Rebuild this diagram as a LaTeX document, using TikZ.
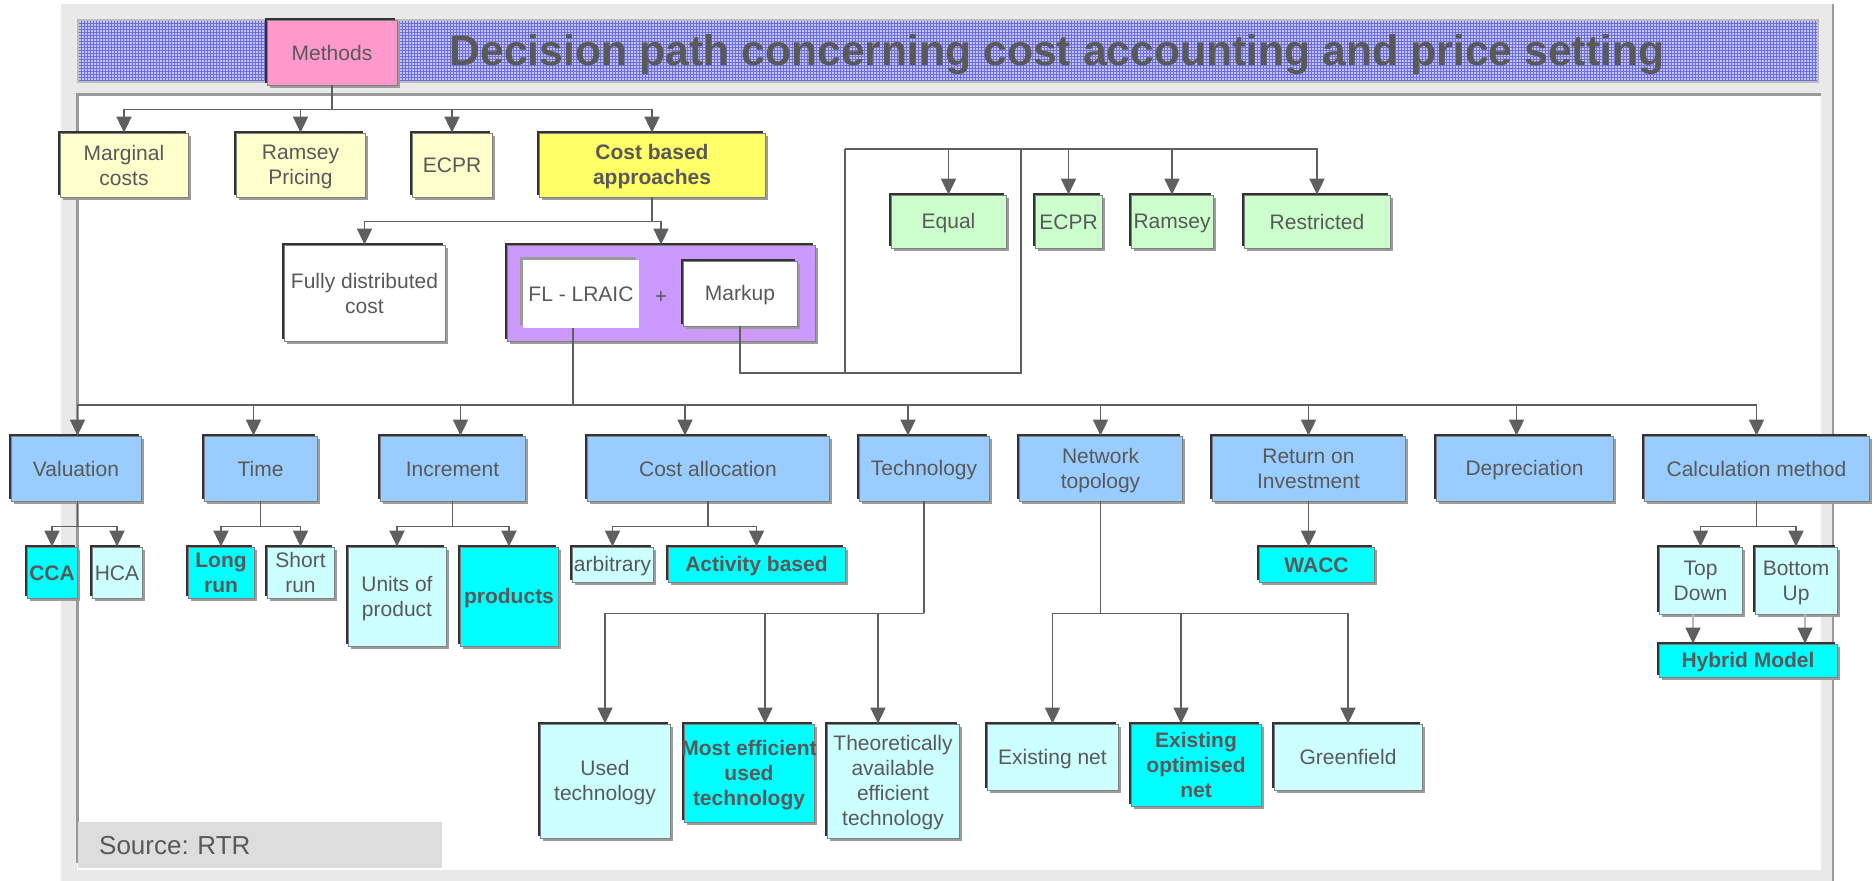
\documentclass[tikz,border=0pt]{standalone}
\usepackage{fontspec}
\setmainfont{Liberation Sans}
\usetikzlibrary{arrows.meta,shadows,patterns,calc}

\definecolor{txt}{HTML}{595959}
\definecolor{framegray}{HTML}{E9E9E9}
\definecolor{edgegray}{HTML}{9A9A9A}
\definecolor{panelborder}{HTML}{999999}
\definecolor{bannerbg}{HTML}{C2C2F0}
\definecolor{bannerline}{HTML}{6E6ED8}
\definecolor{bannerborder}{HTML}{BDBDBD}
\definecolor{srcgray}{HTML}{DDDDDD}
\definecolor{darkedge}{HTML}{333333}
\definecolor{shadowgray}{HTML}{9C9C9C}
\definecolor{boxline}{HTML}{808080}
\definecolor{linec}{HTML}{5F5F5F}
\definecolor{lightline}{HTML}{B8B8B8}
\definecolor{pinkf}{HTML}{FF99CC}
\definecolor{yelL}{HTML}{FFFFCC}
\definecolor{yel}{HTML}{FFFF66}
\definecolor{pur}{HTML}{CC99FF}
\definecolor{grn}{HTML}{CCFFCC}
\definecolor{blu}{HTML}{99CCFF}
\definecolor{cyn}{HTML}{00FFFF}
\definecolor{cynL}{HTML}{CCFFFF}

\frenchspacing
\newcommand{\bfnt}{\fontsize{21}{25}\selectfont}
% strut that centres capitals in a box
\newcommand{\capstrut}{\rule[-4pt]{0pt}{23pt}}
% box placed by its left, top, right and bottom edges
\newcommand{\boxnode}[7][]{%
  \node[bxbase,#1,minimum width={(#4-#2)*1pt},minimum height={(#5-#3)*1pt}]
    (#6) at ({(#2+#4)/2},{(#3+#5)/2}) {\capstrut#7\capstrut};}

\begin{document}
\begin{tikzpicture}[x=1pt,y=-1pt,
  bxbase/.style={align=center,inner sep=1pt,text=txt,font=\bfnt},
  bx/.style={draw=boxline,line width=0.75pt,
    general shadow={shadow xshift=3pt,shadow yshift=-3pt,fill=shadowgray},
    general shadow={shadow xshift=-2.5pt,shadow yshift=2.5pt,fill=darkedge}},
  bold/.style={font=\bfnt\bfseries},
  conn/.style={draw=linec,line width=1.7pt},
  arr/.style={conn,-{Triangle[length=16pt,width=15pt,color=linec]}},
  arrl/.style={draw=lightline,line width=1.5pt,-{Triangle[length=16pt,width=15pt,color=linec]}},
]
\useasboundingbox (0,0) rectangle (1875,881);

% frame, title banner and white panel
\fill[framegray] (61,4) rectangle (1833,881);
\draw[edgegray,line width=2pt] (1833,4) -- (1833,881);
\fill[bannerbg] (78,20) rectangle (1818,82);
\fill[pattern=grid,pattern color=bannerline] (78,20) rectangle (1818,82);
\draw[bannerborder,line width=2.5pt] (78,20) rectangle (1818,82);
\fill[white] (77,94) rectangle (1821,870);
\draw[panelborder,line width=3pt] (77,863) -- (77,94) -- (1821,94);

\node[anchor=base west,text=txt,font=\fontsize{42.7}{48}\selectfont\bfseries]
  (title) at (446,65) {Decision path concerning cost accounting and price setting};

% methods
\boxnode[bx,fill=pinkf]{267}{20}{397}{85}{methods}{Methods}
\boxnode[bx,fill=yelL]{60}{133}{188}{197}{mc}{Marginal\\costs}
\boxnode[bx,fill=yelL]{236}{133}{365}{197}{rp}{Ramsey\\Pricing}
\boxnode[bx,fill=yelL]{412}{133}{492}{197}{ecpr}{ECPR}
\boxnode[bx,fill=yel,bold]{539}{133}{765}{197}{cba}{Cost based\\approaches}

% cost based approaches
\boxnode[bx,fill=white]{284}{245}{445}{341}{fdc}{Fully distributed\\cost}
\boxnode[bx,fill=pur]{507}{245}{815}{341}{lraicbox}{}
\boxnode[fill=white,general shadow={shadow xshift=-3pt,shadow yshift=3pt,fill=edgegray}]{523}{260}{639}{328}{fl}{FL - LRAIC}
\node[text=txt,font=\bfnt] (plus) at (661,297) {+};
\boxnode[bx,fill=white]{683}{261}{797}{326}{markup}{Markup}

% markup variants
\boxnode[bx,fill=grn]{891}{195}{1006}{248}{eq}{Equal}
\boxnode[bx,fill=grn]{1035}{195}{1102}{248}{ecprB}{ECPR}
\boxnode[bx,fill=grn]{1131}{195}{1213}{248}{ram}{Ramsey}
\boxnode[bx,fill=grn]{1244}{195}{1390}{248}{res}{Restricted}

% decision dimensions
\boxnode[bx,fill=blu]{11}{436}{141}{501}{val}{Valuation}
\boxnode[bx,fill=blu]{204}{436}{317}{501}{time}{Time}
\boxnode[bx,fill=blu]{380}{436}{525}{501}{inc}{Increment}
\boxnode[bx,fill=blu]{587}{436}{829}{501}{alloc}{Cost allocation}
\boxnode[bx,fill=blu]{859}{436}{989}{501}{tech}{Technology}
\boxnode[bx,fill=blu]{1019}{436}{1182}{501}{net}{Network\\topology}
\boxnode[bx,fill=blu]{1212}{436}{1405}{501}{roi}{Return on\\Investment}
\boxnode[bx,fill=blu]{1436}{436}{1613}{501}{dep}{Depreciation}
\boxnode[bx,fill=blu]{1644}{436}{1869}{501}{calc}{Calculation method}

% options
\boxnode[bx,fill=cyn,bold]{27}{547}{77}{598}{cca}{CCA}
\boxnode[bx,fill=cynL]{92}{547}{142}{598}{hca}{HCA}
\boxnode[bx,fill=cyn,bold]{188}{547}{254}{598}{lr}{Long\\run}
\boxnode[bx,fill=cynL]{267}{547}{334}{598}{sr}{Short\\run}
\boxnode[bx,fill=cynL]{348}{547}{446}{646}{units}{Units of\\product}
\boxnode[bx,fill=cyn,bold]{460}{547}{558}{646}{prod}{products}
\boxnode[bx,fill=cynL]{572}{547}{653}{582}{arb}{arbitrary}
\boxnode[bx,fill=cyn,bold]{668}{547}{845}{582}{act}{Activity based}
\boxnode[bx,fill=cyn,bold]{1259}{547}{1374}{582}{wacc}{WACC}
\boxnode[bx,fill=cynL]{1659}{547}{1742}{614}{td}{Top\\Down}
\boxnode[bx,fill=cynL]{1755}{547}{1837}{614}{bu}{Bottom\\Up}
\boxnode[bx,fill=cyn,bold]{1659}{644}{1837}{677}{hyb}{Hybrid Model}

\boxnode[bx,fill=cynL]{540}{724}{670}{838}{used}{Used\\technology}
\boxnode[bx,fill=cyn,bold]{684}{724}{814}{822}{most}{\makebox[0pt]{Most efficient}\\used\\technology}
\boxnode[bx,fill=cynL]{827}{724}{959}{838}{theo}{Theoretically\\available\\efficient\\technology}
\boxnode[bx,fill=cynL]{987}{724}{1118}{790}{exnet}{Existing net}
\boxnode[bx,fill=cyn,bold]{1131}{724}{1261}{806}{exopt}{Existing\\optimised\\net}
\boxnode[bx,fill=cynL]{1274}{724}{1422}{790}{green}{Greenfield}

% source
\node[anchor=north west,fill=srcgray,minimum width=364pt,minimum height=46pt,
  text width=322pt,inner xsep=21pt,inner ysep=0pt,align=left,text=txt,
  font=\fontsize{26}{30}\selectfont] (src) at (78,822) {\rule[-4.5pt]{0pt}{28pt}Source: RTR};

% connectors: methods
\coordinate (mb) at ($(methods.south)+(0,24)$);
\draw[conn] (methods.south) -- (mb);
\foreach \t in {mc,rp,ecpr,cba} \draw[arr] (mb) -| (\t.north);

\coordinate (cb) at ($(cba.south)+(0,24)$);
\draw[conn] (cba.south) -- (cb);
\draw[arr] (cb) -| (fdc.north);
\draw[arr] (cb) -| (lraicbox.north);

% markup loop to the variants
\coordinate (mkA) at (1021,373);
\coordinate (mkB) at (1021,149);
\coordinate (mkC) at (845,373);
\coordinate (mkD) at (845,149);
\draw[conn] (markup.south) |- (mkA) -- (mkB);
\draw[conn] (mkC) -- (mkD);
\foreach \t in {eq,ecprB,ram,res} \draw[arr] (mkD) -| (\t.north);

% bus to the decision dimensions
\coordinate (bus) at (573,405);
\draw[conn] ([xshift=-8pt]fl.south) -- (bus);
\draw[arr] (bus) -| ([xshift=1.5pt]val.north);
\draw[arr] (bus) -| ([xshift=-7pt]time.north);
\draw[arr] (bus) -| ([xshift=8pt]inc.north);
\draw[arr] (bus) -| ([xshift=-23pt]alloc.north);
\draw[arr] (bus) -| ([xshift=-16pt]tech.north);
\draw[arr] (bus) -| (net.north);
\draw[arr] (bus) -| (roi.north);
\draw[arr] (bus) -| ([xshift=-8pt]dep.north);
\draw[arr] (bus) -| (calc.north);

% splits into options
\coordinate (vs) at ($([xshift=1.5pt]val.south)+(0,25)$);
\draw[conn] ([xshift=1.5pt]val.south) -- (vs);
\draw[arr] (vs) -| (cca.north);
\draw[arr] (vs) -| (hca.north);

\coordinate (ts) at ($(time.south)+(0,25)$);
\draw[conn] (time.south) -- (ts);
\draw[arr] (ts) -| (lr.north);
\draw[arr] (ts) -| (sr.north);

\coordinate (is) at ($(inc.south)+(0,25)$);
\draw[conn] (inc.south) -- (is);
\draw[arr] (is) -| (units.north);
\draw[arr] (is) -| (prod.north);

\coordinate (as) at ($(alloc.south)+(0,25)$);
\draw[conn] (alloc.south) -- (as);
\draw[arr] (as) -| (arb.north);
\draw[arr] (as) -| (act.north);

\coordinate (tb) at ($(tech.south)+(0,112)$);
\draw[conn] (tech.south) -- (tb);
\draw[arr] (tb) -| (used.north);
\draw[arr] (tb) -| ([xshift=16pt]most.north);
\draw[arr] (tb) -| ([xshift=-15pt]theo.north);

\coordinate (nb) at ($(net.south)+(0,112)$);
\draw[conn] (net.south) -- (nb);
\draw[arr] (nb) -| (exnet.north);
\draw[arr] (nb) -| ([xshift=-15pt]exopt.north);
\draw[arr] (nb) -| (green.north);

\draw[arr] (roi.south) -- (roi.south |- wacc.north);

\coordinate (ks) at ($(calc.south)+(0,25)$);
\draw[conn] (calc.south) -- (ks);
\draw[arr] (ks) -| (td.north);
\draw[arr] (ks) -| (bu.north);
\draw[arrl] ([xshift=-7.5pt]td.south) -- ([xshift=-7.5pt]td.south |- hyb.north);
\draw[arrl] ([xshift=9pt]bu.south) -- ([xshift=9pt]bu.south |- hyb.north);
\end{tikzpicture}
\end{document}
